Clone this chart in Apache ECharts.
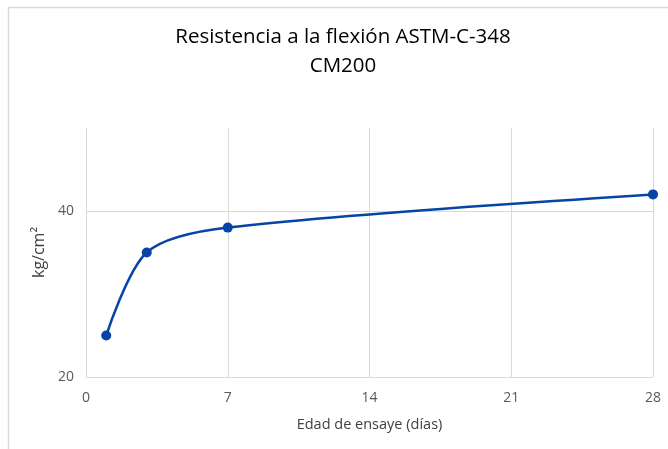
<!DOCTYPE html>
<html>
<head>
<meta charset="utf-8">
<script src="https://cdn.jsdelivr.net/npm/echarts@6/dist/echarts.min.js"></script>
<style>html,body{margin:0;padding:0;background:#fff}#c{width:668px;height:449px}</style>
</head>
<body>
<div id="c"></div>
<script>
const titleLines = ['Resistencia a la flexión ASTM-C-348', 'CM200'];
const xName = 'Edad de ensaye (días)';
const yName = 'kg/cm²';
const days = [1, 3, 7, 28];
const strength = [25, 35, 38, 42];
const xTicks = [0, 7, 14, 21, 28];
const yTicks = [20, 40];

const chart = echarts.init(document.getElementById('c'), null, {renderer: 'canvas'});
const font = '"Open Sans", "Liberation Sans", sans-serif';
chart.setOption({
  animation: false,
  backgroundColor: '#fff',
  graphic: [{
    type: 'rect', shape: {x: 8.5, y: 7.5, width: 700, height: 500},
    style: {fill: 'none', stroke: '#d9d9d9', lineWidth: 1.5}, silent: true
  }].concat(titleLines.map((t, i) => ({
    type: 'text', x: 343, y: 37 + i * 29, silent: true,
    style: {text: t, fontFamily: font, fontSize: 20.5, fill: '#000', align: 'center', verticalAlign: 'middle'}
  }))),
  grid: {left: 86, top: 128, width: 567, height: 249, containLabel: false},
  xAxis: {
    type: 'value', min: xTicks[0], max: xTicks[xTicks.length - 1], interval: 7,
    name: xName, nameLocation: 'middle', nameGap: 40,
    nameTextStyle: {fontFamily: font, fontSize: 14.5, color: '#404040'},
    axisLine: {show: false}, axisTick: {show: false},
    axisLabel: {fontFamily: font, fontSize: 14, color: '#595959', margin: 14},
    splitLine: {show: true, lineStyle: {color: '#d9d9d9', width: 1}}
  },
  yAxis: {
    type: 'value', min: 20, max: 50, interval: 20,
    name: yName, nameLocation: 'middle', nameGap: 34,
    nameTextStyle: {fontFamily: font, fontSize: 16, color: '#404040'},
    axisLine: {show: true, lineStyle: {color: '#d9d9d9', width: 1}}, axisTick: {show: false},
    axisLabel: {fontFamily: font, fontSize: 14, color: '#595959', margin: 12, showMaxLabel: false,
      formatter: v => yTicks.includes(v) ? String(v) : ''},
    splitLine: {show: true, lineStyle: {color: ['#d9d9d9', '#d9d9d9', 'rgba(0,0,0,0)'], width: 1}}
  },
  series: [{
    type: 'line',
    data: days.map((d, i) => [d, strength[i]]),
    smooth: 0.3,
    symbol: 'circle', symbolSize: 10,
    lineStyle: {color: '#0645a5', width: 2.5},
    itemStyle: {color: '#0645a5'}
  }]
});
</script>
</body>
</html>
